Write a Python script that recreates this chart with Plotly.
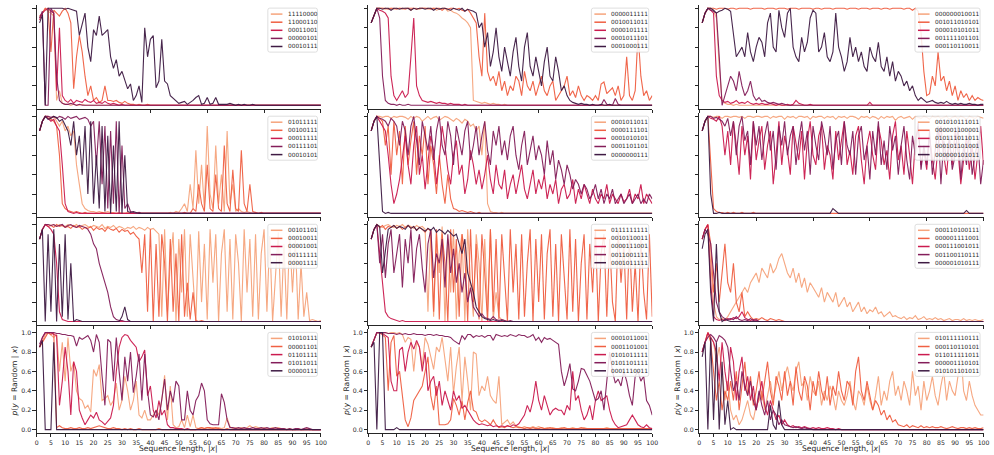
import plotly.graph_objects as go

W, H = 994, 455
seq_len = list(range(1, 101))
palette = ["#f6a47c", "#f06043", "#cb1b4f", "#841e5a", "#3f1b44"]

# ---------------- row 1 ----------------
r1c1_labels = ["11110000", "11000110", "00011001", "00000101", "00010111"]
r1c1_a = [.9,.95,1,.97,.95,.92,.05,.15,.02,.01, .01,0,.01,0,0,.01,0,0,0,0,
          0,0,0,0,0,0,0,0,0,0, 0,0,0,0,0,0,0,0,0,0, 0,0,0,0,0,0,0,0,0,0,
          0,0,0,0,0,0,0,0,0,0, 0,0,0,0,0,0,0,0,0,0, 0,0,0,0,0,0,0,0,0,0,
          0,0,0,0,0,0,0,0,0,0, 0,0,0,0,0,0,0,0,0,0]
r1c1_b = [.92,.95,1,.98,.55,.98,.95,.92,.97,1, .95,.85,.17,.5,.72,.55,.3,.1,.2,.05,
          .08,.03,.05,.2,.05,.05,.04,.05,.03,.02, .04,.02,.01,.01,0,.01,0,0,.01,0,
          0,0,0,0,0,0,0,0,0,0, 0,0,0,0,0,0,0,0,0,0, 0,0,0,0,0,0,0,0,0,0,
          0,0,0,0,0,0,0,0,0,0, 0,0,0,0,0,0,0,0,0,0, 0,0,0,0,0,0,0,0,0,0]
r1c1_c = [.88,.95,.98,1,.97,.95,.15,.8,.1,.05, .03,.06,.02,.05,.04,.03,.06,.04,.03,.05,
          .02,.03,.02,.04,.02,.01,.02,.01,0,.01, 0,0,0,0,0,0,0,0,0,0,
          0,0,0,0,0,0,0,0,0,0, 0,0,0,0,0,0,0,0,0,0, 0,0,0,0,0,0,0,0,0,0,
          0,0,0,0,0,0,0,0,0,0, 0,0,0,0,0,0,0,0,0,0, 0,0,0,0,0,0,0,0,0,0]
r1c1_d = [.9,.97,0,0,1,.95,.3,.05,.02,.01, .01,.02,.01,0,.01,0,0,0,0,0,
          0,0,0,0,0,0,0,0,0,0, 0,0,0,0,0,0,0,0,0,0, 0,0,0,0,0,0,0,0,0,0,
          0,0,0,0,0,0,0,0,0,0, 0,0,0,0,0,0,0,0,0,0, 0,0,0,0,0,0,0,0,0,0,
          0,0,0,0,0,0,0,0,0,0, 0,0,0,0,0,0,0,0,0,0]
r1c1_e = [.85,.93,0,1,1,1,1,1,1,.99, 1,.99,.98,.97,.72,.85,.95,.6,.45,.78,
          .72,.92,.72,.75,.78,.5,.38,.47,.3,.35, .27,.17,.22,.05,.1,.2,.03,.8,.5,.68,
          .72,.18,.25,.68,.25,.22,.1,.07,.05,.02, .03,.04,.01,.03,.05,.08,.1,.01,.02,.08,
          .01,.02,.08,.01,.01,.01,.01,.02,.01,0, .01,0,.01,0,0,.01,0,0,0,0,
          0,0,0,0,0,0,0,0,0,0, 0,0,0,0,0,0,0,0,0,0]

r1c2_labels = ["0000011111", "0010011011", "0000101111", "0001011101", "0001000111"]
r1c2_a = [.85,.93,1,1,1,.99,1,1,.99,1, 1,.99,1,1,.98,1,1,.99,1,1,
          .99,1,1,.98,.99,1,1,.97,.98,.96, .95,.93,.9,.88,.85,.8,.05,.04,.03,.02,
          .03,.02,.01,.02,.01,.01,0,.01,0,0, 0,0,0,0,0,0,0,0,0,0, 0,0,0,0,0,0,0,0,0,0,
          0,0,0,0,0,0,0,0,0,0, 0,0,0,0,0,0,0,0,0,0, 0,0,0,0,0,0,0,0,0,0]
r1c2_b = [.85,.93,1,1,1,1,.99,1,1,.99, 1,1,.99,1,1,1,.99,1,1,1,
          1,.99,1,1,1,.98,1,.99,1,1, .99,1,.98,.97,.99,.95,.9,.85,.5,.3,
          .95,.35,.25,.3,.2,.35,.15,.25,.1,.2, .15,.3,.25,.1,.35,.2,.15,.25,.1,.2,
          .3,.15,.1,.2,.25,.05,.1,.15,.2,.3, .1,.15,.08,.2,.1,.05,.1,.08,.05,.1,
          .05,.22,.24,.12,.15,.18,.1,.2,.05,.1, .5,.1,.05,.15,.74,.3,.1,.15,.05,.1]
r1c2_c = [.85,.93,1,.98,.97,.95,.9,.3,.1,.05, .1,.15,.08,.12,.5,.9,.2,.1,.05,.04,
          .03,.04,.03,.02,.03,.02,.02,.01,.02,.01, .01,.01,0,.01,0,0,0,0,0,0,
          0,0,0,0,0,0,0,0,0,0, 0,0,0,0,0,0,0,0,0,0, 0,0,0,0,0,0,0,0,0,0,
          0,0,0,0,0,0,0,0,0,0, 0,0,0,0,0,0,0,0,0,0, 0,0,0,0,0,0,0,0,0,0]
r1c2_d = [.85,.93,1,.9,.3,.05,.02,.01,.01,0, .01,0,0,.01,0,0,0,0,0,0,
          0,0,0,0,0,0,0,0,0,0, 0,0,0,0,0,0,0,0,0,0, 0,0,0,0,0,0,0,0,0,0,
          0,0,0,0,0,0,0,0,0,0, 0,0,0,0,0,0,0,0,0,0, 0,0,0,0,0,0,0,0,0,0,
          0,0,.06,.01,0,0,.07,.01,0,0, 0,0,0,0,0,0,0,0,0,0]
r1c2_e = [.85,.93,1,1,.99,1,1,.98,1,1, .99,1,1,1,.98,1,.99,1,1,.99,
          1,1,.98,1,.99,1,1,.99,.98,1, .99,.98,1,.97,.99,.98,.97,.95,.8,.85,
          .6,.75,.4,.55,.8,.5,.35,.6,.45,.3, .55,.7,.4,.25,.6,.75,.4,.3,.5,.35,
          .2,.45,.6,.3,.25,.5,.35,.15,.2,.1, .05,.03,.02,.01,.02,.01,.01,0,.01,0,
          0,.01,0,0,.01,0,0,0,0,0, 0,0,0,0,0,0,0,0,0,0]

r1c3_labels = ["000000010011", "001011010101", "000010101011", "001111101101", "000110110011"]
r1c3_a = [.85,.95,1,1,.98,.9,.4,.05,.02,.01, .01,0,.01,0,0,0,0,0,0,0,
          0,0,0,0,0,0,0,0,0,0, 0,0,0,0,0,0,0,0,0,0, 0,0,0,0,0,0,0,0,0,0,
          0,0,0,0,0,0,0,0,0,0, 0,0,0,0,0,0,0,0,0,0, 0,0,0,0,0,0,0,0,0,0,
          0,0,0,0,0,0,0,0,0,0, 0,0,0,0,0,0,0,0,0,0]
r1c3_b = [.85,.95,1,1,1,.99,1,1,1,.99, 1,1,.99,1,1,1,1,.99,1,1,
          1,1,.99,1,1,1,.99,1,1,1, .99,1,1,1,.99,1,1,1,1,.99,
          1,1,.99,1,1,1,.99,1,1,1, 1,.99,1,1,1,.99,1,1,1,.99,
          1,1,1,.99,1,1,.99,1,1,1, 1,.99,1,1,.98,1,.97,.75,.35,.1,
          .12,.3,.2,.55,.25,.3,.15,.25,.1,.2, .05,.15,.08,.12,.05,.1,.05,.08,.06,.05]
r1c3_c = [.85,.95,1,.98,.95,.3,.1,.05,.03,.04, .02,.03,.05,.02,.03,.02,.04,.02,.01,.02,
          .01,.02,.01,.01,.02,.01,0,.01,0,0, .01,0,.01,.05,.02,.01,0,0,.01,0,
          0,0,0,0,0,0,0,0,0,0, 0,0,0,0,0,0,0,0,0,.03, 0,0,0,0,0,0,0,0,0,0,
          0,0,0,0,0,0,0,0,0,0, 0,0,0,0,0,0,0,0,0,0, 0,0,0,0,0,0,0,0,0,0]
r1c3_d = [.85,.95,1,.98,.97,.95,.5,0,.1,.2, .3,.25,.15,.35,.2,.1,.15,.25,.1,.05,
          .08,.04,.05,.03,.02,.03,.02,.01,.02,.01, 0,0,0,0,0,0,0,0,0,0,
          0,0,0,0,0,0,0,0,0,0, 0,0,0,0,0,0,0,0,0,0, 0,0,0,0,0,0,0,0,0,0,
          0,0,0,0,0,0,0,0,0,0, 0,0,0,0,0,0,0,0,0,0, 0,0,0,0,0,0,0,0,0,0]
r1c3_e = [.85,.95,1,1,.98,.95,.97,.98,1,.99, .97,.7,.5,.55,.6,.5,.75,.55,.45,.6,
          .7,.65,.5,.85,.95,.6,.55,.98,.8,.7, .95,1,.6,.5,.45,.7,.55,.65,.9,.98,
          .95,.55,.6,.75,.5,.45,.55,.95,.6,.5, .35,.45,.7,.5,.6,.45,.55,.4,.35,.6,
          .5,.45,.65,.4,.35,.5,.3,.45,.25,.35, .3,.2,.25,.15,.2,.1,.05,.08,.05,.03,
          .04,.05,.03,.02,.03,.02,.04,.02,.01,.02, .01,.02,.01,.01,.02,.01,.01,0,.01,.01]

# ---------------- row 2 ----------------
r2c1_labels = ["01011111", "00100111", "00011111", "00111101", "00010101"]
r2c1_a = [.85,.95,1,1,.98,1,.95,.9,.95,.85, .9,.8,.85,.5,.3,.1,.05,.03,.02,.02,
          .01,.02,.01,.01,.02,.01,.01,0,.01,0, 0,.01,0,0,0,.01,0,0,0,0,
          0,0,0,0,0,0,.01,0,.02,.01, .05,.1,.02,.3,.05,.65,.1,.5,.05,.9,
          .2,.05,.7,.1,.4,.02,.85,.1,.3,.02, .05,.02,.01,.02,.01,0,.01,0,0,0,
          0,0,0,0,0,0,0,0,0,0, 0,0,0,0,0,0,0,0,0,0]
r2c1_b = [.85,.95,1,.98,.97,.95,.9,.6,.1,.05, .03,.02,.01,.02,.01,0,.01,0,0,0,
          0,0,.01,0,0,0,0,0,0,0, 0,0,0,0,0,0,0,0,0,0, 0,0,0,0,0,0,0,0,0,0,
          0,.01,0,0,.05,.02,.3,.1,.02,.5, .05,.02,.4,.05,.02,.7,.1,.02,.45,.05,
          .02,.65,.1,.02,.3,.02,.01,0,.01,0, 0,0,0,0,0,0,0,0,0,0, 0,0,0,0,0,0,0,0,0,0]
r2c1_c = [.85,.95,1,.98,.95,.97,.9,.85,.5,.1, .02,.01,0,.01,0,0,0,0,0,0,
          0,0,0,0,0,0,0,0,0,0, 0,0,0,0,0,0,0,0,0,0, 0,0,0,0,0,0,0,0,0,0,
          0,0,0,0,0,0,0,0,0,0, 0,0,0,0,0,0,0,0,0,0, 0,0,0,0,0,0,0,0,0,0,
          0,0,0,0,0,0,0,0,0,0, 0,0,0,0,0,0,0,0,0,0]
r2c1_d = [.85,.95,1,1,.99,1,.98,1,.99,.97, 1,.98,.99,1,.97,.98,.99,.97,.9,.95,
          .5,.95,.3,.9,.05,.85,.1,.95,0,.7, .05,.1,.02,.01,0,.01,0,0,0,0,
          0,0,0,0,0,0,0,0,0,0, 0,0,0,0,0,0,0,0,0,0, 0,0,0,0,0,0,0,0,0,0,
          0,0,0,0,0,0,0,0,0,0, 0,0,0,0,0,0,0,0,0,0, 0,0,0,0,0,0,0,0,0,0]
r2c1_e = [.85,.95,1,.97,.98,1,.99,.95,.97,.9, .85,.7,.95,.6,.8,.4,.9,.2,.95,.1,
          .6,.05,.9,.02,.8,0,.7,.02,.95,0, .6,.02,.01,.02,.01,0,0,0,0,0,
          0,0,0,0,0,0,0,0,0,0, 0,0,0,0,0,0,0,0,0,0, 0,0,0,0,0,0,0,0,0,0,
          0,0,0,0,0,0,0,0,0,0, 0,0,0,0,0,0,0,0,0,0, 0,0,0,0,0,0,0,0,0,0]

r2c2_labels = ["0001011011", "0000111101", "0001010101", "0001101101", "0000000111"]
r2c2_a = [.85,.95,1,1,.99,1,1,.98,1,.99, 1,1,.99,.97,1,.98,1,.99,.95,.98,
          1,.97,.99,1,.96,.98,1,.99,.97,.95, .98,.96,.93,.97,.95,.9,.92,.85,.9,.6,
          .95,.1,.02,.01,.01,0,.01,0,0,0, 0,0,0,0,0,0,0,0,0,0, 0,0,0,0,0,0,0,0,0,0,
          0,0,0,0,0,0,0,0,0,0, 0,0,0,0,0,0,0,0,0,0, 0,0,0,0,0,0,0,0,0,0]
r2c2_b = [.85,.95,1,.98,.95,.7,.9,.4,.95,.6, .85,.3,.9,.5,.75,.95,.4,.8,.6,.9,
          .3,.7,.5,.2,.6,.3,.1,.4,.15,.05, .04,.02,.03,.02,.01,.02,.01,0,.01,0,
          0,0,0,0,0,0,0,0,0,0, 0,0,0,0,0,0,0,0,0,0, 0,0,0,0,0,0,0,0,0,0,
          0,0,0,0,0,0,0,0,0,0, 0,0,0,0,0,0,0,0,0,0, 0,0,0,0,0,0,0,0,0,0]
r2c2_c = [.85,.95,1,.95,.9,.85,.6,.3,.1,.2, .35,.6,.8,.5,.3,.7,.9,.4,.6,.25,
          .5,.8,.65,.3,.55,.9,.7,.45,.3,.6, .75,.4,.5,.2,.35,.65,.5,.3,.45,.25,
          .4,.6,.35,.2,.5,.3,.25,.45,.15,.3, .4,.2,.35,.5,.25,.15,.3,.45,.2,.35,
          .25,.4,.15,.3,.2,.35,.1,.25,.3,.15, .2,.35,.1,.25,.15,.3,.2,.1,.25,.15,
          .1,.2,.15,.3,.1,.2,.15,.1,.2,.12, .15,.25,.1,.2,.15,.3,.1,.2,.15,.1]
r2c2_d = [.85,.95,1,.98,.97,.95,.9,.98,.95,.9, .7,.95,.85,.6,.9,1,.75,.5,.95,.8,
          .65,.9,.55,.85,1,.7,.6,.95,.8,.5, .9,.75,.6,.85,.95,.55,.7,.9,.6,.8,
          .95,.65,.5,.85,.7,.9,.6,.75,.55,.8, .9,.6,.45,.7,.85,.5,.65,.8,.55,.7,
          .6,.4,.75,.5,.65,.35,.55,.45,.3,.5, .4,.25,.35,.3,.2,.3,.25,.15,.2,.3,
          .15,.25,.1,.2,.15,.25,.1,.15,.2,.1, .15,.2,.1,.15,.2,.1,.15,.1,.2,.15]
r2c2_e = [.85,.95,1,.5,.02,0,.01,0,0,0, 0,0,0,0,0,0,0,0,0,0,
          0,0,0,0,0,0,0,0,0,0, 0,0,0,0,0,0,0,0,0,0, 0,0,0,0,0,0,0,0,0,0,
          0,0,0,0,0,0,0,0,0,0, 0,0,0,0,0,0,0,0,0,0, 0,0,0,0,0,0,0,0,0,0,
          0,0,0,0,0,0,0,0,0,0, 0,0,0,0,0,0,0,0,0,0]

r2c3_labels = ["001010111011", "000001100001", "010111011011", "000101101001", "000000101011"]
r2c3_a = [.85,.95,1,1,.99,1,1,.98,1,1, .99,1,1,.99,1,.98,1,1,.99,1,
          1,.99,1,1,.98,1,.99,1,1,.97, 1,.99,1,.98,1,1,.99,1,.97,1,
          .99,1,1,.98,1,.99,1,.97,1,.99, 1,.98,1,1,.99,.97,1,.99,1,.98,
          1,.99,.97,1,.98,1,.99,1,.96,.99, 1,.98,.99,1,.97,1,.99,.98,1,.99,
          .97,1,.99,1,.98,.99,1,.97,.99,1, .98,1,.99,.97,1,.99,.98,1,.99,.98]
r2c3_b = [.85,.95,1,.5,.05,.02,.01,.01,0,.01, 0,.01,0,0,.01,0,0,0,.01,0,
          0,0,0,0,0,0,0,0,0,0, 0,0,0,0,0,0,0,0,0,0, 0,0,0,0,0,0,0,0,0,0,
          0,0,0,0,0,0,0,0,0,0, 0,0,0,0,0,0,0,0,0,0, 0,0,0,0,0,0,0,0,0,0,
          0,0,0,0,0,0,0,0,0,0, 0,0,0,0,0,0,0,0,0,0]
r2c3_c = [.85,.95,1,.98,.97,.95,1,.9,.6,.85, .5,.95,.7,.4,.9,.6,.8,.35,.95,.55,
          .75,.9,.45,.7,.85,.3,.6,.95,.5,.8, .65,.4,.9,.7,.55,.85,.35,.75,.95,.6,
          .5,.8,.9,.45,.7,.6,.35,.85,.55,.75, .95,.5,.65,.4,.8,.9,.55,.3,.7,.85,
          .6,.45,.9,.75,.5,.65,.35,.8,.95,.55, .7,.4,.85,.6,.3,.75,.9,.5,.65,.45,
          .8,.55,.35,.7,.9,.6,.4,.75,.5,.85, .65,.3,.55,.8,.45,.7,.35,.6,.9,.5]
r2c3_d = [.85,.95,1,1,.98,.99,.97,.95,.9,.98, .8,.95,.6,.9,1,.75,.85,.5,.95,.7,
          .9,.55,.8,.95,.65,.85,.45,.9,.7,.95, .6,.8,.9,.5,.75,.95,.65,.85,.4,.9,
          .7,.55,.95,.8,.6,.9,.45,.75,.85,.5, .95,.7,.6,.85,.4,.8,.9,.55,.7,.35,
          .85,.6,.95,.5,.75,.45,.9,.65,.8,.4, .7,.9,.55,.35,.8,.6,.95,.45,.7,.5,
          .85,.4,.65,.9,.3,.75,.55,.8,.45,.6, .9,.35,.7,.5,.85,.4,.6,.75,.3,.55]
r2c3_e = [.85,.95,1,.2,0,0,.01,0,0,0, 0,0,0,0,0,0,0,0,0,0,
          0,0,0,0,0,0,0,0,0,0, 0,0,0,0,0,0,0,0,0,0, 0,0,0,0,0,0,.05,.02,0,0,
          0,0,0,0,0,0,0,0,0,0, 0,0,0,0,0,0,0,0,0,0, 0,0,0,0,0,0,0,0,0,0,
          0,0,0,0,0,0,0,0,0,0, 0,0,0,.03,0,0,0,0,0,0]

# ---------------- row 3 ----------------
r3c1_labels = ["00101101", "00010011", "00001001", "00111111", "00001111"]
r3c1_a = [.85,.95,1,1,.99,1,.98,1,.99,.98, 1,.99,.98,1,.97,.99,1,.98,.97,.99,
          .98,.97,1,.96,.98,.97,.99,.96,.98,.97, .95,.97,.96,.98,.95,.97,.96,.94,.97,.95,
          .96,.93,.9,.05,.95,.1,.6,.92,0,.85, .3,.95,.05,.9,.5,0,.93,.2,.8,.02,
          .95,.4,.9,0,.7,.95,.1,.85,.02,.9, .6,0,.95,.3,.85,.05,.9,.02,.7,.95,
          .1,.88,0,.5,.92,.05,.8,.02,.9,.3, .85,.02,.6,.05,.3,.01,.02,.01,0,.01]
r3c1_b = [.85,.95,1,.98,.99,.97,1,.98,.99,.97, .98,.96,.99,.97,.98,.95,.97,.96,.98,.94,
          .97,.95,.96,.93,.97,.95,.94,.96,.92,.95, .93,.94,.9,.92,.88,.85,.5,.9,.1,.95,
          0,.8,.05,.9,.6,0,.85,.1,.7,0, .9,.05,.4,.02,.3,.01,0,.01,0,0,
          0,0,0,0,0,0,0,0,0,0, 0,0,0,0,0,0,0,0,0,0, 0,0,0,0,0,0,0,0,0,0,
          0,0,0,0,0,0,0,0,0,0]
r3c1_c = [.85,.95,1,.98,.95,.9,.6,.1,.02,.01, 0,0,0,0,0,0,0,0,0,0,
          0,0,0,0,0,0,0,0,0,0, 0,0,0,0,0,0,0,0,0,0, 0,0,0,0,0,0,0,0,0,0,
          0,0,0,0,0,0,0,0,0,0, 0,0,0,0,0,0,0,0,0,0, 0,0,0,0,0,0,0,0,0,0,
          0,0,0,0,0,0,0,0,0,0, 0,0,0,0,0,0,0,0,0,0]
r3c1_d = [.85,.95,1,1,.99,1,.98,.99,1,.97, .99,1,.98,.97,.99,.98,.97,.95,.9,.8,
          .75,.6,.5,.4,.3,.15,.05,.02,.01,.01, 0,0,0,0,0,0,0,0,0,0,
          0,0,0,0,0,0,0,0,0,0, 0,0,0,0,0,0,0,0,0,0, 0,0,0,0,0,0,0,0,0,0,
          0,0,0,0,0,0,0,0,0,0, 0,0,0,0,0,0,0,0,0,0, 0,0,0,0,0,0,0,0,0,0]
r3c1_e = [.85,.95,0,.9,.1,.95,0,.8,.05,.9, .02,.6,0,.02,.01,0,0,0,0,0,
          0,0,0,0,0,0,0,0,0,.05, .15,.02,0,0,0,0,0,0,0,0,
          0,0,0,0,0,0,0,0,0,0, 0,0,0,0,0,0,0,0,0,0, 0,0,0,0,0,0,0,0,0,0,
          0,0,0,0,0,0,0,0,0,0, 0,0,0,0,0,0,0,0,0,0, 0,0,0,0,0,0,0,0,0,0]

r3c2_labels = ["0111111111", "0010110011", "0000111001", "0011001111", "0001011111"]
r3c2_a = [.85,.95,1,.98,.97,.99,1,.98,.97,.99, .98,1,.97,.99,.98,.96,.99,.97,.98,.95,
          .1,.95,.05,.9,.5,.98,0,.85,.3,.95, .02,.7,.9,0,.95,.4,.05,.9,.6,0,
          .85,.1,.95,.02,.3,.05,.02,.01,0,0, 0,0,0,0,0,0,0,0,0,0, 0,0,0,0,0,0,0,0,0,0,
          0,0,0,0,0,0,0,0,0,0, 0,0,0,0,0,0,0,0,0,0, 0,0,0,0,0,0,0,0,0,0]
r3c2_b = [.85,.95,1,.97,.99,.95,.98,.97,.99,.96, .98,.95,.97,.99,.96,.98,.94,.97,.95,.92,
          .96,.93,.1,.95,.02,.9,.6,0,.95,.3, .85,.05,.9,.7,0,.95,.2,.8,.02,.9,
          .5,0,.95,.1,.85,.02,.9,.4,0,.95, .3,.8,.02,.9,.05,.6,.95,0,.85,.2,
          .9,.02,.7,.95,.05,.8,0,.9,.4,.02, .95,.1,.85,0,.6,.9,.02,.8,.3,.95,
          0,.7,.9,.05,.85,.2,0,.95,.4,.8, .02,.9,.1,.6,0,.85,.3,.02,.9,.05]
r3c2_c = [.85,.95,1,.7,.4,.1,.05,.03,.02,.01, 0,.01,0,0,0,0,0,0,0,0,
          0,0,0,0,0,0,0,0,0,0, 0,0,0,0,0,0,0,0,0,0, 0,0,0,0,0,0,0,0,0,0,
          0,0,0,0,0,0,0,0,0,0, 0,0,0,0,0,0,0,0,0,0, 0,0,0,0,0,0,0,0,0,0,
          0,0,0,0,0,0,0,0,0,0, 0,0,0,0,0,0,0,0,0,0]
r3c2_d = [.85,.95,1,.6,.9,.45,.8,.95,.5,.7, .9,.35,.85,.6,.95,.4,.75,.9,.55,.3,
          .8,.95,.45,.7,.6,.85,.35,.9,.5,.75, .4,.6,.3,.5,.2,.35,.15,.1,.05,.08,
          .04,.03,.02,.05,.02,.01,.02,.01,0,.01, 0,0,0,0,0,0,0,0,0,0,
          0,0,0,0,0,0,0,0,0,0, 0,0,0,0,0,0,0,0,0,0, 0,0,0,0,0,0,0,0,0,0,
          0,0,0,0,0,0,0,0,0,0]
r3c2_e = [.85,.95,1,.98,.5,.7,.95,.97,.99,.96, .98,.97,.95,.99,.96,.98,.94,.97,.95,.93,
          .96,.94,.97,.92,.95,.93,.9,.94,.91,.88, .9,.8,.7,.85,.5,.4,.3,.15,.1,.05,
          .03,.02,.01,.02,.01,0,.01,0,0,0, 0,0,0,0,0,0,0,0,0,0, 0,0,0,0,0,0,0,0,0,0,
          0,0,0,0,0,0,0,0,0,0, 0,0,0,0,0,0,0,0,0,0, 0,0,0,0,0,0,0,0,0,0]

r3c3_labels = ["000110100111", "000001111001", "000111001011", "001100110111", "000001010111"]
r3c3_a = [.85,.95,1,.6,.2,.05,.02,.03,.02,.05, .1,.15,.2,.25,.3,.35,.3,.4,.45,.5,
          .4,.55,.5,.45,.6,.5,.55,.65,.7,.6, .5,.45,.55,.4,.5,.35,.45,.3,.4,.35,
          .3,.25,.35,.2,.3,.25,.2,.3,.15,.2, .25,.15,.2,.1,.15,.2,.1,.15,.08,.12,
          .1,.15,.08,.1,.05,.08,.1,.05,.06,.04, .03,.05,.02,.04,.03,.06,.02,.03,.05,.02,
          .03,.02,.04,.02,.03,.01,.02,.03,.01,.02, .02,.01,.03,.01,.02,.01,.02,.01,.01,.02]
r3c3_b = [.85,.95,1,.8,.3,.6,.2,.5,.8,.4, .3,.6,.2,.1,.3,.05,.1,.05,.02,.03,
          .02,.04,.02,.01,.03,.02,.01,.02,.01,0, 0,0,0,0,0,0,0,0,0,0,
          0,0,0,0,0,0,0,0,0,0, 0,0,0,0,0,0,0,0,0,0, 0,0,0,0,0,0,0,0,0,0,
          0,0,0,0,0,0,0,0,0,0, 0,0,0,0,0,0,0,0,0,0, 0,0,0,0,0,0,0,0,0,0]
r3c3_c = [.85,.95,1,.4,.05,.02,.01,.02,.01,.03, .02,.04,.03,.05,.1,.04,.02,.01,.02,.01,
          0,0,0,0,0,0,0,0,0,0, 0,0,0,0,0,0,0,0,0,0, 0,0,0,0,0,0,0,0,0,0,
          0,0,0,0,0,0,0,0,0,0, 0,0,0,0,0,0,0,0,0,0, 0,0,0,0,0,0,0,0,0,0,
          0,0,0,0,0,0,0,0,0,0, 0,0,0,0,0,0,0,0,0,0]
r3c3_d = [.85,.95,.9,.8,.5,.2,.1,.05,.03,.02, .03,.02,.05,.02,.01,.02,.01,.03,.01,.02,
          0,0,0,0,0,0,0,0,0,0, 0,0,0,0,0,0,0,0,0,0, 0,0,0,0,0,0,0,0,0,0,
          0,0,0,0,0,0,0,0,0,0, 0,0,0,0,0,0,0,0,0,0, 0,0,0,0,0,0,0,0,0,0,
          0,0,0,0,0,0,0,0,0,0, 0,0,0,0,0,0,0,0,0,0]
r3c3_e = [.75,.9,.95,.3,0,.8,.1,0,.02,.01, 0,0,0,0,0,0,0,0,0,0,
          0,0,0,0,0,0,0,0,0,0, 0,0,0,0,0,0,0,0,0,0, 0,0,0,0,0,0,0,0,0,0,
          0,0,0,0,0,0,0,0,0,0, 0,0,0,0,0,0,0,0,0,0, 0,0,0,0,0,0,0,0,0,0,
          0,0,0,0,0,0,0,0,0,0, 0,0,0,0,0,0,0,0,0,0]

# ---------------- row 4 ----------------
r4c1_labels = ["01010111", "00001101", "01101111", "01011011", "00000111"]
r4c1_a = [.85,.92,.98,1,.97,.95,.98,.6,.9,.5, .95,.6,.7,.4,.32,.3,.22,.25,.18,.62,
          .55,.67,.3,.32,.35,.25,.3,.48,.2,.3, .55,.4,.2,.3,.5,.15,.12,.2,.1,.1,
          .15,.2,.15,.3,.56,.1,.45,.05,.02,.03, .1,.02,.15,.03,.15,.02,.01,.02,.01,.02,
          .01,.02,.01,.02,.01,.02,.12,.03,.01,.02, .01,.02,.01,.02,.04,.02,.03,.02,.01,.02,
          .01,.01,.02,.01,.02,.01,.01,0,.01,0, 0,.01,0,0,.01,0,0,0,0,0]
r4c1_b = [.85,.9,.95,1,.98,1,.02,.04,.02,.01, .01,.02,.01,.01,.02,.01,.01,.02,.01,.02,
          .03,.04,.03,.02,.01,.01,.02,.01,.01,0, .01,0,.01,0,0,.01,0,0,0,0,
          0,0,.01,0,0,0,0,0,0,0, 0,0,0,0,0,0,.01,.02,.01,.02,
          .02,.01,.02,.01,0,0,.01,0,0,0, 0,0,0,0,0,0,0,0,0,0,
          0,0,0,0,0,0,0,0,0,0, 0,0,0,0,0,0,0,0,0,0]
r4c1_c = [.85,.95,1,1,1,.98,.97,.25,.5,.85, .6,.15,.7,.6,.2,.12,.05,.1,.15,.12,
          .18,.1,.08,.05,.08,.12,.25,.6,.85,.95, .98,.97,.92,.88,.85,.7,.75,.82,.35,.45,
          .2,.12,.3,.15,.2,.05,.02,.02,.01,.01, .01,0,.01,0,0,0,0,0,0,0,
          0,0,0,0,0,0,0,0,0,0, 0,0,0,0,0,0,0,0,0,0, 0,0,0,0,0,0,0,0,0,0,
          0,0,0,0,0,0,0,0,0,0]
r4c1_d = [.88,.95,1,1,1,1,.99,.99,.98,.98, .97,.97,.96,.86,.95,.93,.95,.97,.92,.8,
          .98,.9,.55,.25,.93,.9,.5,.95,.6,.3, .75,.5,.8,.38,.55,.78,.3,.78,.4,.15,
          .13,.2,.1,.3,.52,.2,.4,.28,.5,.45, .1,.1,.4,.2,.15,.3,.35,.48,.4,.1,
          .06,.05,.05,.05,.37,.28,.1,.02,.02,.01, .02,.01,.02,.01,.01,.02,.01,.01,.02,.01,
          .02,.01,.01,.02,.01,.01,.01,0,.01,0, .01,.01,0,.01,.02,.01,0,0,0,0]
r4c1_e = [.85,.92,0,0,0,.9,0,0,0,0, 0,0,0,0,0,0,0,0,0,0,
          0,0,0,0,0,0,0,0,0,0, 0,0,0,0,0,0,0,0,0,0, 0,0,0,0,0,0,0,0,0,0,
          0,0,0,0,0,0,0,0,0,0, 0,0,0,0,0,0,0,0,0,0, 0,0,0,0,0,0,0,0,0,0,
          0,0,0,0,0,0,0,0,0,0, 0,0,0,0,0,0,0,0,0,0]

r4c2_labels = ["0001011001", "0001101001", "0101011111", "0101101111", "0001110011"]
r4c2_a = [.85,.92,1,1,1,1,.99,1,1,.99, 1,.98,.9,.95,.93,.6,.9,.85,.65,.95,
          .88,.75,.62,.85,.8,.95,.7,.5,.85,.37, .65,.85,.3,.75,.5,.2,.8,.78,.35,.45,
          .4,.55,.35,.3,.27,.55,.05,.08,.1,.05, .08,.04,.03,.02,.03,.02,.02,.03,.02,.03,
          .02,.01,.02,.01,.02,.01,.01,.02,.01,.01, .01,.02,.01,.01,.01,.02,.01,.01,.01,.01,
          .01,.01,.01,.02,.01,.01,.01,.01,.01,.01, .01,.01,.01,.01,.01,.01,.01,.01,.01,.01]
r4c2_b = [.85,.92,1,1,.97,.95,.4,.9,.97,.55, .6,.35,.1,.03,.12,.3,.35,.4,.45,.6,
          .75,.35,.2,.45,.05,.05,.05,.06,.1,.32, .25,.15,.3,.1,.28,.4,.2,.18,.1,.08,
          .1,.08,.05,.1,.05,.02,.03,.02,.04,.03, .02,.03,.02,.02,.01,.02,.01,.02,.01,.01,
          .02,.01,.01,.02,.01,.01,.01,.01,.02,.01, .01,.01,.01,.01,.02,.01,.01,.01,.01,.01,
          .01,.01,.01,.01,.01,.01,.01,.01,.01,.01, .01,.01,.01,.01,.01,.01,.01,.01,.01,.01]
r4c2_c = [.85,.92,1,1,.99,.97,.95,.5,.4,.4, .82,.85,.6,.8,.9,.83,.92,.85,.6,.8,
          .4,.5,.55,.35,.5,.25,.4,.3,.2,.4, .3,.35,.22,.25,.2,.15,.1,.07,.05,.06,
          .05,.04,.05,.03,.04,.03,.04,.03,.04,.03, .05,.04,.06,.1,.15,.25,.18,.3,.5,.3,
          .2,.35,.25,.15,.2,.22,.2,.2,.15,.25, .2,.6,.3,.35,.2,.1,.15,.25,.1,.3,
          .4,.3,.32,.35,.2,.1,.05,.02,.03,.04, .05,.1,.15,.1,.05,.03,.02,.05,.02,.01]
r4c2_d = [.85,.92,1,1,1,1,.99,.99,.99,.98, .99,.98,.99,.98,.98,.99,.98,.98,.98,.97,
          .98,.98,.97,.98,.97,.97,.96,.96,.95,.92, .9,.88,.97,.93,.98,.98,.95,.97,.96,.97,
          .95,.97,.97,.92,.98,.97,.96,.97,.96,.98, .97,.96,.98,.97,.97,.95,.96,.98,.92,.95,
          .9,.95,.93,.94,.92,.9,.88,.6,.45,.55, .68,.42,.4,.5,.63,.62,.55,.5,.4,.3,
          .32,.4,.2,.5,.8,.6,.48,.52,.45,.6, .5,.35,.25,.55,.6,.5,.55,.3,.25,.15]
r4c2_e = [.85,.9,0,1,1,0,0,0,0,.02, 0,0,0,0,0,0,0,0,0,0,
          0,0,0,0,0,0,0,0,0,0, 0,0,0,0,0,0,0,0,0,0, 0,0,0,0,0,0,0,0,0,0,
          0,0,0,0,0,0,0,0,0,0, 0,0,0,0,0,0,0,0,0,0, 0,0,0,0,0,0,0,0,0,0,
          0,0,0,0,0,0,0,0,0,0, 0,0,0,0,0,0,0,0,0,0]

r4c3_labels = ["010111110111", "000110110101", "011011111011", "000001110101", "010101101011"]
r4c3_a = [.8,.9,1,.95,.9,.7,.85,.6,.3,.5, .2,.1,.15,.05,.1,.2,.3,.15,.1,.25,
          .3,.4,.2,.35,.5,.3,.45,.6,.4,.55, .65,.5,.4,.6,.7,.45,.5,.3,.55,.4,
          .35,.5,.25,.4,.3,.45,.35,.2,.4,.3, .25,.35,.5,.3,.2,.4,.35,.25,.45,.3,
          .2,.35,.55,.25,.4,.3,.5,.6,.35,.45, .3,.5,.4,.25,.6,.35,.45,.2,.5,.3,
          .4,.55,.35,.25,.45,.6,.3,.5,.4,.35, .55,.8,.4,.3,.5,.35,.25,.2,.15,.15]
r4c3_b = [.8,.9,1,.9,.6,.3,.5,.2,.4,.3, .5,.3,.6,.2,.45,.7,.35,.55,.25,.4,
          .6,.3,.5,.7,.4,.25,.55,.45,.3,.6, .35,.5,.25,.65,.4,.3,.55,.45,.2,.5,
          .35,.6,.4,.3,.55,.25,.45,.35,.6,.4, .3,.5,.45,.25,.6,.75,.4,.3,.5,.35,
          .2,.3,.25,.15,.2,.1,.15,.08,.1,.05, .04,.03,.05,.02,.04,.03,.02,.04,.02,.03,
          .02,.03,.02,.02,.03,.02,.01,.02,.03,.02, .01,.02,.02,.01,.02,.01,.02,.01,.01,.02]
r4c3_c = [.8,.9,1,.95,.9,.8,.5,.9,.6,.4, .85,.7,.3,.6,.75,.4,.55,.3,.45,.2,
          .35,.5,.25,.15,.3,.2,.1,.15,.05,.1, .05,.03,.04,.02,.03,.02,.03,.02,.01,.02,
          .01,.02,.01,.01,.02,.01,.01,0,.01,0, 0,0,0,0,0,0,0,0,0,0,
          0,0,0,0,0,0,0,0,0,0, 0,0,0,0,0,0,0,0,0,0, 0,0,0,0,0,0,0,0,0,0,
          0,0,0,0,0,0,0,0,0,0]
r4c3_d = [.8,.9,.95,.98,.95,.9,.97,.95,.92,.85, .6,.4,.5,.3,.6,.45,.35,.5,.3,.2,
          .4,.25,.15,.3,.1,.2,.15,.05,.1,.05, .04,.03,.02,.03,.02,.01,.02,.01,.01,0,
          0,0,0,0,0,0,0,0,0,0, 0,0,0,0,0,0,0,0,0,0, 0,0,0,0,0,0,0,0,0,0,
          0,0,0,0,0,0,0,0,0,0, 0,0,0,0,0,0,0,0,0,0, 0,0,0,0,0,0,0,0,0,0]
r4c3_e = [.75,.9,0,.95,.1,.9,0,.7,.05,.3, 0,.02,0,0,0,0,0,0,0,0,
          0,0,0,0,.25,.05,0,.3,.05,0, 0,0,0,0,0,0,0,0,0,0, 0,0,0,0,0,0,0,0,0,0,
          0,0,0,0,0,0,0,0,0,0, 0,0,0,0,0,0,0,0,0,0, 0,0,0,0,0,0,0,0,0,0,
          0,0,0,0,0,0,0,0,0,0, 0,0,0,0,0,0,0,0,0,0]

panel_labels = [r1c1_labels, r1c2_labels, r1c3_labels,
                r2c1_labels, r2c2_labels, r2c3_labels,
                r3c1_labels, r3c2_labels, r3c3_labels,
                r4c1_labels, r4c2_labels, r4c3_labels]
panel_series = [[r1c1_a, r1c1_b, r1c1_c, r1c1_d, r1c1_e],
                [r1c2_a, r1c2_b, r1c2_c, r1c2_d, r1c2_e],
                [r1c3_a, r1c3_b, r1c3_c, r1c3_d, r1c3_e],
                [r2c1_a, r2c1_b, r2c1_c, r2c1_d, r2c1_e],
                [r2c2_a, r2c2_b, r2c2_c, r2c2_d, r2c2_e],
                [r2c3_a, r2c3_b, r2c3_c, r2c3_d, r2c3_e],
                [r3c1_a, r3c1_b, r3c1_c, r3c1_d, r3c1_e],
                [r3c2_a, r3c2_b, r3c2_c, r3c2_d, r3c2_e],
                [r3c3_a, r3c3_b, r3c3_c, r3c3_d, r3c3_e],
                [r4c1_a, r4c1_b, r4c1_c, r4c1_d, r4c1_e],
                [r4c2_a, r4c2_b, r4c2_c, r4c2_d, r4c2_e],
                [r4c3_a, r4c3_b, r4c3_c, r4c3_d, r4c3_e]]

for k, group in enumerate(panel_series):
    for j, s in enumerate(group):
        assert len(s) == 100, (k, j, len(s))

# ---------------- layout geometry (pixels) ----------------
col_px = [(35.0, 321.5), (369.3, 655.5), (703.0, 989.5)]
row_top_px = [4.9, 113.0, 221.1, 329.2]
row_h_px = 103.8
y_lo, y_hi = -0.035, 1.035
ink = "#262626"
font_family = "DejaVu Sans"


def px_x(v):
    return v / W


def px_y(v):
    return 1 - v / H


fig = go.Figure()
axes = {}
shapes = []
annotations = []

for r in range(4):
    for c in range(3):
        k = r * 3 + c
        sfx = "" if k == 0 else str(k + 1)
        x0, x1 = col_px[c]
        top = row_top_px[r]
        bot = top + row_h_px
        bottom_row = r == 3
        labels = panel_labels[k]

        for lab, vals, colr in zip(labels, panel_series[k], palette):
            fig.add_trace(go.Scatter(
                x=seq_len, y=vals, mode="lines", name=lab,
                line=dict(color=colr, width=1.1), opacity=0.95,
                xaxis="x" + sfx, yaxis="y" + sfx,
                showlegend=False, hoverinfo="skip"))

        axes["xaxis" + sfx] = dict(
            domain=[px_x(x0), px_x(x1)], anchor="y" + sfx, range=[0, 100],
            showline=True, linecolor=ink, linewidth=0.8, mirror=False,
            ticks="outside", ticklen=3.5, tickwidth=0.8, tickcolor=ink,
            showgrid=False, zeroline=False,
            tick0=0, dtick=5 if bottom_row else 20,
            showticklabels=bottom_row,
            tickfont=dict(family=font_family, size=6.2, color=ink))
        axes["yaxis" + sfx] = dict(
            domain=[px_y(bot), px_y(top)], anchor="x" + sfx, range=[y_lo, y_hi],
            showline=True, linecolor=ink, linewidth=0.8, mirror=False,
            ticks="outside", ticklen=3.5, tickwidth=0.8, tickcolor=ink,
            showgrid=False, zeroline=False,
            tick0=0, dtick=0.2, tickformat=".1f",
            showticklabels=bottom_row,
            tickfont=dict(family=font_family, size=6.2, color=ink))

        # legend box in the upper-right corner of each panel
        n_chars = len(labels[0])
        box_w = 18.8 + 3.9 * n_chars
        bx1 = x1 - 3.5
        bx0 = bx1 - box_w
        by0 = top + 3.2
        by1 = by0 + 44.0
        rr = 2.0
        path = (f"M {px_x(bx0 + rr)},{px_y(by0)} L {px_x(bx1 - rr)},{px_y(by0)} "
                f"Q {px_x(bx1)},{px_y(by0)} {px_x(bx1)},{px_y(by0 + rr)} "
                f"L {px_x(bx1)},{px_y(by1 - rr)} "
                f"Q {px_x(bx1)},{px_y(by1)} {px_x(bx1 - rr)},{px_y(by1)} "
                f"L {px_x(bx0 + rr)},{px_y(by1)} "
                f"Q {px_x(bx0)},{px_y(by1)} {px_x(bx0)},{px_y(by1 - rr)} "
                f"L {px_x(bx0)},{px_y(by0 + rr)} "
                f"Q {px_x(bx0)},{px_y(by0)} {px_x(bx0 + rr)},{px_y(by0)} Z")
        shapes.append(dict(type="path", xref="paper", yref="paper", path=path,
                           line=dict(color="#d6d6d6", width=0.8),
                           fillcolor="rgba(255,255,255,0.85)", layer="above"))
        for i, (lab, colr) in enumerate(zip(labels, palette)):
            ey = by0 + 6.0 + 8.1 * i
            shapes.append(dict(type="line", xref="paper", yref="paper",
                               x0=px_x(bx0 + 3.0), x1=px_x(bx0 + 14.7),
                               y0=px_y(ey), y1=px_y(ey),
                               line=dict(color=colr, width=1.5), layer="above"))
            annotations.append(dict(
                x=px_x(bx0 + 18.0), y=px_y(ey), xref="paper", yref="paper",
                text=lab, showarrow=False, xanchor="left", yanchor="middle",
                font=dict(family=font_family, size=5.8, color=ink)))

        if bottom_row:
            annotations.append(dict(
                x=px_x((x0 + x1) / 2), y=px_y(448.5), xref="paper", yref="paper",
                text="Sequence length, |<i>x</i>|", showarrow=False,
                xanchor="center", yanchor="middle",
                font=dict(family=font_family, size=7.6, color=ink)))
            annotations.append(dict(
                x=px_x(x0 - 22.5), y=px_y((top + bot) / 2), xref="paper", yref="paper",
                text="<i>p</i>(<i>y</i> = Random | <i>x</i>)", showarrow=False,
                textangle=-90, xanchor="center", yanchor="middle",
                font=dict(family=font_family, size=7.6, color=ink)))

fig.update_layout(
    width=W, height=H, margin=dict(l=0, r=0, t=0, b=0),
    paper_bgcolor="white", plot_bgcolor="white",
    showlegend=False, shapes=shapes, annotations=annotations,
    font=dict(family=font_family, color=ink),
    **axes)

fig.write_html("out.html")
